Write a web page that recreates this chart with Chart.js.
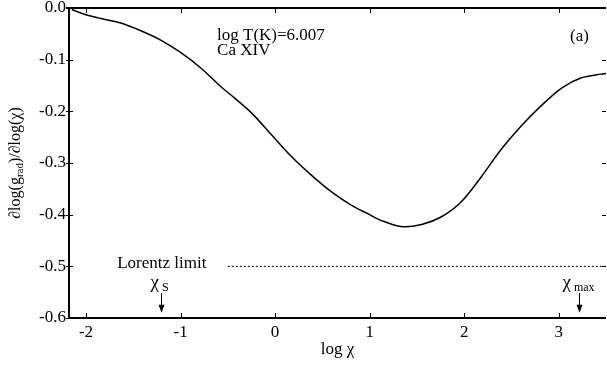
<!DOCTYPE html>
<html>
<head>
<meta charset="utf-8">
<script src="https://cdn.jsdelivr.net/npm/chart.js@4.4.0/dist/chart.umd.js"></script>
<style>
  html, body { margin: 0; padding: 0; background: #fff; overflow: hidden; }
  #wrap { width: 607px; height: 368px; }
  canvas { display: block; }
</style>
</head>
<body>
<div id="wrap"><canvas id="chart" width="607" height="368"></canvas></div>
<script>
// curve: d log(g_rad) / d log(chi) vs log chi
const curveX = [-2.15, -2.0, -1.84, -1.63, -1.42, -1.21, -1.0, -0.78, -0.57, -0.47, -0.25, -0.04, 0.17, 0.38,
  0.59, 0.80, 1.0, 1.12, 1.33, 1.55, 1.76, 1.97, 2.18, 2.39, 2.60, 2.81, 3.03, 3.24, 3.45, 3.50];
const curveY = [-0.003, -0.013, -0.0205, -0.029, -0.044, -0.062, -0.086, -0.117, -0.153, -0.168, -0.203, -0.245, -0.287, -0.323,
  -0.355, -0.381, -0.400, -0.411, -0.423, -0.419, -0.404, -0.375, -0.327, -0.274, -0.229, -0.190, -0.155, -0.135, -0.128, -0.127];

// Lorentz limit (dotted)
const lorentzX = [-0.5, 3.5];
const lorentzY = [-0.5, -0.5];

// tick values
const xTicks = [-2, -1, 0, 1, 2, 3];
const yTicks = [0, -0.1, -0.2, -0.3, -0.4, -0.5, -0.6];

// arrows marking chi_S and chi_max
const arrowX = [-1.206, 3.217];
const arrowSub = ['S', 'max'];

const FONT = '"Liberation Serif", "Times New Roman", serif';

const framePlugin = {
  id: 'frame',
  afterDraw(chart) {
    const { ctx, chartArea: a, scales: { x, y } } = chart;
    const top = Math.round(y.getPixelForValue(0));
    const bot = Math.round(y.getPixelForValue(-0.6));
    const left = Math.round(x.getPixelForValue(-2.18));
    const right = Math.round(x.getPixelForValue(3.5));

    ctx.save();
    ctx.fillStyle = '#000';
    ctx.strokeStyle = '#000';

    // text annotations
    ctx.font = '17px ' + FONT;
    ctx.textAlign = 'left';
    ctx.textBaseline = 'alphabetic';
    ctx.fillText('log T(K)=6.007', x.getPixelForValue(-0.614), y.getPixelForValue(-0.061));
    ctx.fillText('Ca XIV', x.getPixelForValue(-0.614), y.getPixelForValue(-0.090));
    ctx.fillText('(a)', x.getPixelForValue(3.12), y.getPixelForValue(-0.063));
    ctx.fillText('Lorentz limit', x.getPixelForValue(-1.67), y.getPixelForValue(-0.504));

    // chi arrows
    const yTop = y.getPixelForValue(-0.552);
    const yTip = y.getPixelForValue(-0.590);
    arrowX.forEach((v, i) => {
      const px = Math.round(x.getPixelForValue(v)) + 0.5;
      ctx.lineWidth = 1;
      ctx.beginPath();
      ctx.moveTo(px, yTop);
      ctx.lineTo(px, yTip - 6);
      ctx.stroke();
      ctx.beginPath();
      ctx.moveTo(px - 3, yTip - 8);
      ctx.lineTo(px + 3, yTip - 8);
      ctx.lineTo(px, yTip);
      ctx.closePath();
      ctx.fill();

      ctx.font = '19px ' + FONT;
      const chiW = ctx.measureText('\u03C7').width;
      const cx = px - (i === 0 ? 11 : 17);
      ctx.fillText('\u03C7', cx, yTop - 5);
      ctx.font = '12px ' + FONT;
      ctx.fillText(arrowSub[i], cx + chiW + 3, yTop - 2);
    });

    // y axis title with subscript
    ctx.save();
    ctx.translate(15, (a.top + a.bottom) / 2);
    ctx.rotate(-Math.PI / 2);
    const big = '16px ' + FONT, small = '11px ' + FONT;
    const parts = [['\u2202log(g', big, 0], ['rad', small, 4], [')/\u2202log(\u03C7)', big, 0]];
    let total = 0;
    parts.forEach(p => { ctx.font = p[1]; total += ctx.measureText(p[0]).width; });
    let cur = -total / 2;
    ctx.textBaseline = 'middle';
    parts.forEach(p => {
      ctx.font = p[1];
      ctx.fillText(p[0], cur, p[2] + 1);
      cur += ctx.measureText(p[0]).width;
    });
    ctx.restore();

    // frame: left, bottom, top
    ctx.fillRect(left - 1, top - 1, 2, bot - top + 2);
    ctx.fillRect(left - 1, bot - 1, right - left + 1, 2);
    ctx.fillRect(left - 3, top - 1, right - left + 3, 2);

    // inward ticks
    xTicks.forEach(v => {
      const px = Math.round(x.getPixelForValue(v));
      ctx.fillRect(px, bot - 5, 1, 5);
      ctx.fillRect(px, top, 1, 5);
    });
    yTicks.forEach(v => {
      const py = Math.round(y.getPixelForValue(v));
      ctx.fillRect(left - 3, py, 7, 1);
      ctx.fillRect(right - 4, py, 4, 1);
    });

    ctx.restore();
  }
};

new Chart(document.getElementById('chart'), {
  type: 'scatter',
  data: {
    datasets: [{
      data: curveX.map((v, i) => ({ x: v, y: curveY[i] })),
      showLine: true,
      borderColor: '#000',
      borderWidth: 1.5,
      pointRadius: 0,
      tension: 0.3
    }, {
      data: lorentzX.map((v, i) => ({ x: v, y: lorentzY[i] })),
      showLine: true,
      borderColor: '#000',
      borderWidth: 1,
      borderDash: [2, 2],
      pointRadius: 0
    }]
  },
  options: {
    responsive: false,
    animation: false,
    events: [],
    layout: { padding: { left: 0, top: 8, right: 1, bottom: 0 } },
    plugins: {
      legend: { display: false },
      tooltip: { enabled: false }
    },
    scales: {
      x: {
        type: 'linear',
        min: -2.18,
        max: 3.5,
        grid: { display: false, drawTicks: false },
        border: { display: false },
        afterBuildTicks: s => { s.ticks = xTicks.map(v => ({ value: v })); },
        afterFit: s => { s.height = 50; s.paddingLeft = 0; s.paddingRight = 0; },
        ticks: {
          color: '#000',
          padding: 4,
          maxRotation: 0,
          font: { family: FONT, size: 17 },
          callback: v => String(v)
        },
        title: {
          display: true,
          text: 'log \u03C7',
          color: '#000',
          font: { family: FONT, size: 17 },
          padding: { top: 0, bottom: 8 }
        }
      },
      y: {
        min: -0.6,
        max: 0,
        grid: { display: false, drawTicks: false },
        border: { display: false },
        afterBuildTicks: s => { s.ticks = yTicks.map(v => ({ value: v })); },
        afterFit: s => { s.width = 69; s.paddingTop = 0; s.paddingBottom = 0; },
        ticks: {
          color: '#000',
          padding: 3,
          font: { family: FONT, size: 17 },
          callback: v => v.toFixed(1)
        }
      }
    }
  },
  plugins: [framePlugin]
});
</script>
</body>
</html>
